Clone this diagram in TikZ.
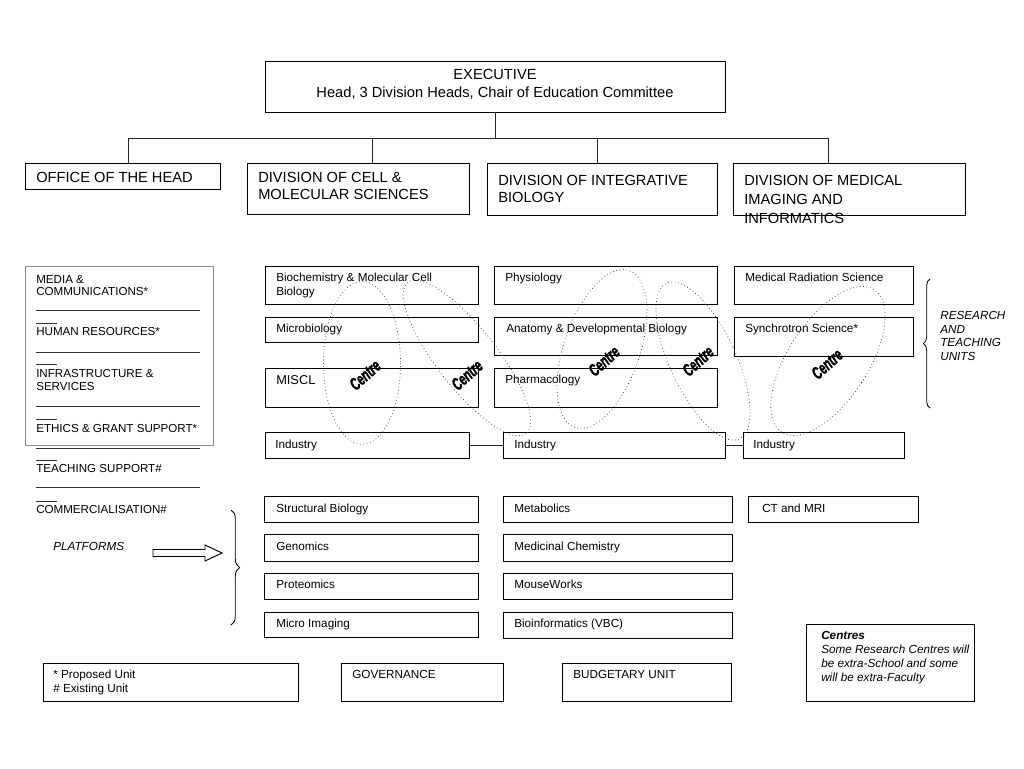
\documentclass[tikz,border=0pt]{standalone}
\usepackage{fontspec}
\setmainfont{Liberation Sans}
\newfontfamily\centrefont{Liberation Sans}[BoldItalicFeatures={FakeBold=2}]
\usetikzlibrary{fit,decorations.pathreplacing}
\begin{document}
\begin{tikzpicture}[x=0.75pt,y=-0.75pt,
 box/.style={draw=black, line width=0.7pt, inner sep=0pt},
 gbox/.style={draw=black!45, line width=0.7pt, inner sep=0pt},
 txt/.style={anchor=north west, inner sep=0pt, align=left, font=\fontsize{8.8}{10.5}\selectfont},
 big/.style={anchor=north west, inner sep=0pt, align=left, font=\fontsize{11}{12.75}\selectfont},
 itx/.style={anchor=north west, inner sep=0pt, align=left, font=\fontsize{8.8}{10.25}\selectfont\itshape},
 centre/.style={inner sep=0pt, rotate=42, font=\centrefont\fontsize{13}{13}\selectfont\bfseries\itshape},
 ell/.style={dotted, line width=0.55pt, black!75},
 conn/.style={line width=0.7pt, black!85},
 rulel/.style={line width=0.6pt, black!80}]
\useasboundingbox (0,0) rectangle (1024,768);
\fill[white] (0,0) rectangle (1024,768);

% executive
\node[box, fit={(265,61) (725,112)}] (exec) {};
\node[anchor=north, inner sep=0pt, align=center, font=\fontsize{11}{13.5}\selectfont] (exect) at (495,69) {EXECUTIVE\\Head, 3 Division Heads, Chair of Education Committee};

% divisions
\node[box, fit={(25,163) (220,189)}] (office) {};
\node[big] (officet) at (36,172) {OFFICE OF THE HEAD};
\node[box, fit={(247,163) (469,214)}] (cell) {};
\node[big] (cellt) at (258,172) {DIVISION OF CELL \&\\MOLECULAR SCIENCES};
\node[box, fit={(487,163) (717,215)}] (integ) {};
\node[big] (integt) at (498,175) {DIVISION OF INTEGRATIVE\\BIOLOGY};
\node[box, fit={(733,163) (965,215)}] (med) {};
\node[big, font=\fontsize{11}{14.25}\selectfont] (medt) at (744,175) {DIVISION OF MEDICAL\\IMAGING AND\\INFORMATICS};

% tree connectors
\coordinate (j) at (495,138);
\coordinate (j1) at (128,138);
\coordinate (j2) at (372,138);
\coordinate (j3) at (597,138);
\coordinate (j4) at (828,138);
\draw[conn] (exec.south) -- (j);
\draw[conn] (j1) -- (j4);
\draw[conn] (j1) -- (j1 |- office.north);
\draw[conn] (j2) -- (j2 |- cell.north);
\draw[conn] (j3) -- (j3 |- integ.north);
\draw[conn] (j4) -- (j4 |- med.north);

% left panel
\node[gbox, fit={(25,266) (213,445)}] (panel) {};
\node[txt, font=\fontsize{8.7}{9}\selectfont] (media) at (36,275) {MEDIA \&\\COMMUNICATIONS*};
\node[txt, font=\fontsize{8.7}{9}\selectfont] (hr) at (36,327) {HUMAN RESOURCES*};
\node[txt, font=\fontsize{8.7}{9.75}\selectfont] (infra) at (36,369) {INFRASTRUCTURE \&\\SERVICES};
\node[txt, font=\fontsize{8.7}{9}\selectfont] (ethics) at (36,424) {ETHICS \& GRANT SUPPORT*};
\node[txt, font=\fontsize{8.7}{9}\selectfont] (teach) at (36,464) {TEACHING SUPPORT\#};
\node[txt, font=\fontsize{8.7}{9}\selectfont] (comm) at (36,505) {COMMERCIALISATION\#};
\foreach \ly in {310,352,406,448,487} \draw[rulel] (36,\ly) -- (200,\ly);
\foreach \sy in {323,364,419,460,501} \draw[rulel] (36,\sy) -- (57,\sy);

% research units column 1
\node[box, fit={(265,266) (478,304)}] (bio) {};
\node[txt] (biot) at (276,273) {Biochemistry \& Molecular Cell\\Biology};
\node[box, fit={(265,317) (478,342)}] (micro) {};
\node[txt] (microt) at (276,324) {Microbiology};
\node[box, fit={(265,368) (478,407)}] (miscl) {};
\node[txt, font=\fontsize{9.6}{11}\selectfont] (misclt) at (276,375) {MISCL};
\node[box, fit={(265,432) (469,458)}] (ind1) {};
\node[txt] (ind1t) at (275,440) {Industry};

% column 2
\node[box, fit={(494,266) (717,304)}] (phys) {};
\node[txt] (physt) at (505,273) {Physiology};
\node[box, fit={(494,317) (717,355)}] (anat) {};
\node[txt] (anatt) at (506,324) {Anatomy \& Developmental Biology};
\node[box, fit={(494,368) (717,407)}] (pharm) {};
\node[txt] (pharmt) at (505,375) {Pharmacology};
\node[box, fit={(503,432) (725,458)}] (ind2) {};
\node[txt] (ind2t) at (514,440) {Industry};

% column 3
\node[box, fit={(734,266) (913,304)}] (mrs) {};
\node[txt] (mrst) at (745,273) {Medical Radiation Science};
\node[box, fit={(734,317) (913,356)}] (sync) {};
\node[txt] (synct) at (745,324) {Synchrotron Science*};
\node[box, fit={(743,432) (904,458)}] (ind3) {};
\node[txt] (ind3t) at (753,440) {Industry};

\draw[conn] (ind1.east) -- (ind2.west);
\draw[conn] (ind2.east) -- (ind3.west);

% right brace and label
\draw[decorate, decoration={brace, amplitude=5pt}, line width=0.6pt] (930,408) -- (930,279);
\node[itx] (rtu) at (940,311) {RESEARCH\\AND\\TEACHING\\UNITS};

% centres ellipses
\draw[ell] (362,363) ellipse [x radius=38.5, y radius=81.5];
\draw[ell, rotate around={-52:(467,358)}] (467,358) ellipse [x radius=96, y radius=30];
\draw[ell, rotate around={-19:(602,349)}] (602,349) ellipse [x radius=38, y radius=83];
\draw[ell, rotate around={25:(703,361)}] (703,361) ellipse [x radius=33, y radius=86];
\draw[ell, rotate around={-33:(828,361)}] (828,361) ellipse [x radius=40, y radius=85];
\node[centre] (c1) at (365,375) {\scalebox{0.64}[1]{Centre}};
\node[centre] (c2) at (467,375) {\scalebox{0.64}[1]{Centre}};
\node[centre] (c3) at (604,361) {\scalebox{0.64}[1]{Centre}};
\node[centre] (c4) at (698,361) {\scalebox{0.64}[1]{Centre}};
\node[centre] (c5) at (827,364) {\scalebox{0.64}[1]{Centre}};

% platforms
\node[box, fit={(264,496) (478,522)}] (struct) {};
\node[txt] (structt) at (276,504) {Structural Biology};
\node[box, fit={(264,534) (478,561)}] (genom) {};
\node[txt] (genomt) at (276,542) {Genomics};
\node[box, fit={(264,573) (478,599)}] (prot) {};
\node[txt] (prott) at (276,580) {Proteomics};
\node[box, fit={(264,612) (478,637)}] (mimg) {};
\node[txt] (mimgt) at (276,619) {Micro Imaging};

\node[box, fit={(503,496) (732,522)}] (metab) {};
\node[txt] (metabt) at (514,504) {Metabolics};
\node[box, fit={(503,534) (732,561)}] (medch) {};
\node[txt] (medcht) at (514,542) {Medicinal Chemistry};
\node[box, fit={(503,573) (732,599)}] (mouse) {};
\node[txt] (mouset) at (514,580) {MouseWorks};
\node[box, fit={(503,612) (732,638)}] (binf) {};
\node[txt] (binft) at (514,619) {Bioinformatics (VBC)};

\node[box, fit={(748,496) (918,522)}] (ct) {};
\node[txt] (ctt) at (762,504) {CT and MRI};

\draw[decorate, decoration={brace, amplitude=6.5pt}, line width=0.6pt] (231,510) -- (231,625);
\node[itx] (plat) at (53,542) {PLATFORMS};
\draw[line width=0.7pt] (153,549.5) -- (205,549.5) -- (205,545) -- (222,553) -- (205,561) -- (205,556.5) -- (153,556.5) -- cycle;

% bottom boxes
\node[box, fit={(43,663) (298,701)}] (key) {};
\node[txt] (keyt) at (53,670) {* Proposed Unit\\\# Existing Unit};
\node[box, fit={(341,663) (503,701)}] (gov) {};
\node[txt] (govt) at (352,670) {GOVERNANCE};
\node[box, fit={(562,663) (731,701)}] (budget) {};
\node[txt] (budgett) at (573,670) {BUDGETARY UNIT};
\node[box, fit={(806,624) (974,701)}] (cbox) {};
\node[itx, font=\fontsize{8.8}{10.5}\selectfont\itshape] (cboxt) at (821,631) {\textbf{Centres}\\Some Research Centres will\\be extra-School and some\\will be extra-Faculty};
\end{tikzpicture}
\end{document}
